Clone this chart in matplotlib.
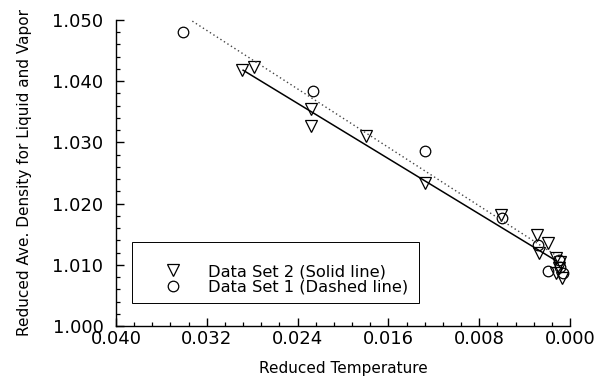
import matplotlib
matplotlib.use("Agg")
import matplotlib.pyplot as plt
from matplotlib.patches import Rectangle
import numpy as np

# Data Set 2 (triangles, solid fit line)
set2_T = [0.0289, 0.0278, 0.0228, 0.0228, 0.0180, 0.0128, 0.0061, 0.0029,
          0.0019, 0.0027, 0.0012, 0.0009, 0.0010, 0.0012, 0.0007]
set2_D = [1.0419, 1.0424, 1.0355, 1.0326, 1.0310, 1.0234, 1.0181, 1.0149,
          1.0136, 1.0120, 1.0111, 1.0105, 1.0094, 1.0086, 1.0078]

# Data Set 1 (circles, dashed fit line)
set1_T = [0.0341, 0.0226, 0.0128, 0.0060, 0.0028, 0.0019, 0.0010, 0.0009, 0.0006]
set1_D = [1.0481, 1.0384, 1.0286, 1.0177, 1.0132, 1.0090, 1.0108, 1.0097, 1.0086]

# Linear fits: slope, intercept, T range
set2_fit = {"slope": 1.129, "intercept": 1.00928, "T": [0.0288, 0.0012]}
set1_fit = {"slope": 1.1945, "intercept": 1.01007, "T": [0.0342, 0.0010]}

xticks = [0.040, 0.032, 0.024, 0.016, 0.008, 0.000]
yticks = [1.000, 1.010, 1.020, 1.030, 1.040, 1.050]

fig = plt.figure(figsize=(6.0, 3.77), dpi=100)
ax = fig.add_axes([116/600, 1-326/377, 454/600, 306/377])

ms = 8
ax.plot(set2_T, set2_D, ls='none', marker='v', ms=ms, mfc='none', mec='black',
        mew=0.9, label='Data Set 2 (Solid line)')
ax.plot(set1_T, set1_D, ls='none', marker='o', ms=ms*0.95, mfc='none', mec='black',
        mew=0.9, label='Data Set 1 (Dashed line)')

for fit, style, lw, col in [(set2_fit, '-', 1.1, 'black'),
                            (set1_fit, (0, (1, 2)), 1.0, '#444444')]:
    t = np.array(fit["T"])
    ax.plot(t, fit["slope"] * t + fit["intercept"], ls=style, lw=lw, color=col)

ax.set_xlim(0.040, 0.000)
ax.set_ylim(1.000, 1.050)
ax.set_xticks(xticks)
ax.set_xticklabels([f"{v:.3f}" for v in xticks])
ax.set_yticks(yticks)
ax.set_yticklabels([f"{v:.3f}" for v in yticks])
ax.set_xticks(np.arange(0.0, 0.0401, 0.0016), minor=True)
ax.set_yticks(np.arange(1.0, 1.0501, 0.002), minor=True)

for s in ['top', 'right']:
    ax.spines[s].set_visible(False)
for s in ['left', 'bottom']:
    ax.spines[s].set_linewidth(1.0)

ax.tick_params(which='major', direction='in', length=6, width=1.0, labelsize=13)
ax.tick_params(which='minor', direction='in', length=3, width=0.9)
ax.tick_params(axis='y', which='major', pad=9)
ax.tick_params(axis='x', which='major', pad=3)

ax.set_xlabel('Reduced Temperature', fontsize=11, labelpad=9)
ax.set_ylabel('Reduced Ave. Density for Liquid and Vapor', fontsize=11, labelpad=15)

# legend frame
x0 = (132-116)/454
x1 = (419-116)/454
y0 = (326-303)/306
y1 = (326-242)/306
ax.add_patch(Rectangle((x0, y0), x1-x0, y1-y0, transform=ax.transAxes,
                       fill=False, edgecolor='black', lw=0.7, zorder=5))
yc = (326-279.5)/306
leg = ax.legend(loc='center left', bbox_to_anchor=(x0, yc),
                borderaxespad=0, fontsize=11.7, frameon=False,
                numpoints=1, handlelength=3.0, handletextpad=0.7,
                borderpad=1.0, labelspacing=0.05)

fig.savefig('out.png', dpi=100)
